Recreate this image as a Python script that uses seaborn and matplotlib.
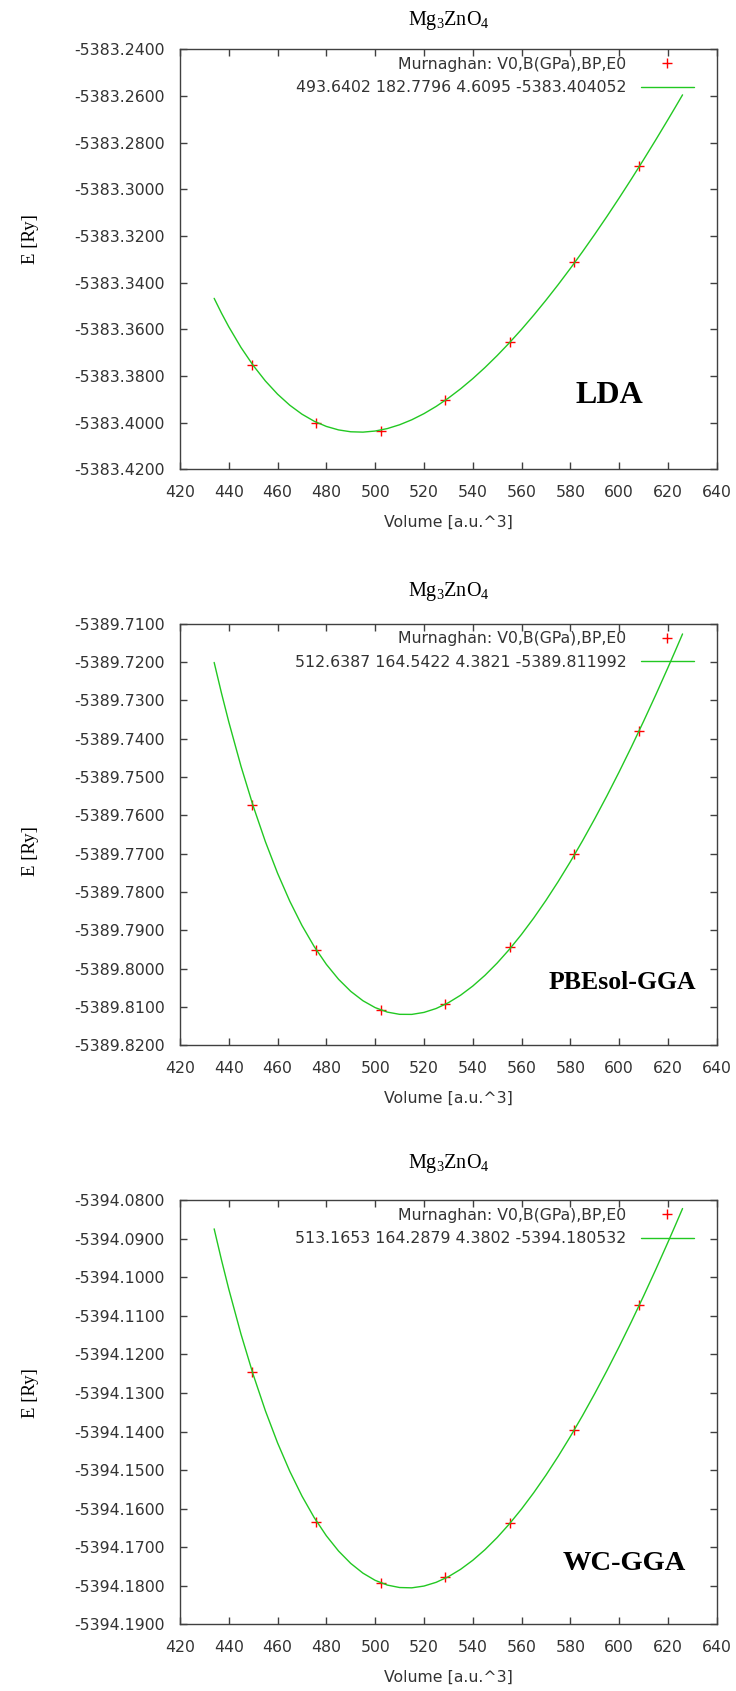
import numpy as np
import pandas as pd
import matplotlib
matplotlib.use("Agg")
import matplotlib.pyplot as plt
import seaborn as sns
from matplotlib.lines import Line2D
from matplotlib.ticker import FixedLocator, FormatStrFormatter

# ---------------- data ----------------
volume_points = [449.5, 475.9, 502.4, 528.8, 555.2, 581.7, 608.1]
energy_lda = [-5383.3752, -5383.4000, -5383.4035, -5383.3903, -5383.3656, -5383.3311, -5383.2899]
energy_pbesol = [-5389.7572, -5389.7952, -5389.8107, -5389.8092, -5389.7944, -5389.7701, -5389.7379]
energy_wc = [-5394.1245, -5394.1634, -5394.1792, -5394.1778, -5394.1637, -5394.1395, -5394.1073]

volume_fit = [434, 437, 440, 445, 450, 455, 460, 465, 470, 475, 480, 485, 490, 495,
              500, 505, 510, 515, 520, 525, 530, 535, 540, 545, 550, 555, 560, 565,
              570, 575, 580, 585, 590, 595, 600, 605, 610, 615, 620, 623, 626]
fit_lda = [-5383.34671, -5383.35304, -5383.35890, -5383.36775, -5383.37546, -5383.38211,
           -5383.38777, -5383.39250, -5383.39634, -5383.39936, -5383.40159, -5383.40308,
           -5383.40388, -5383.40403, -5383.40356, -5383.40250, -5383.40088, -5383.39874,
           -5383.39611, -5383.39301, -5383.38946, -5383.38549, -5383.38112, -5383.37636,
           -5383.37124, -5383.36578, -5383.36000, -5383.35391, -5383.34752, -5383.34085,
           -5383.33391, -5383.32672, -5383.31928, -5383.31162, -5383.30373, -5383.29563,
           -5383.28733, -5383.27884, -5383.27016, -5383.26487, -5383.25952]
fit_pbesol = [-5389.72011, -5389.72811, -5389.73563, -5389.74719, -5389.75758, -5389.76687,
              -5389.77512, -5389.78240, -5389.78875, -5389.79423, -5389.79889, -5389.80278,
              -5389.80593, -5389.80838, -5389.81017, -5389.81134, -5389.81192, -5389.81194,
              -5389.81142, -5389.81040, -5389.80889, -5389.80694, -5389.80455, -5389.80175,
              -5389.79855, -5389.79498, -5389.79105, -5389.78679, -5389.78220, -5389.77730,
              -5389.77211, -5389.76664, -5389.76090, -5389.75491, -5389.74867, -5389.74220,
              -5389.73550, -5389.72859, -5389.72147, -5389.71711, -5389.71267]
fit_wc = [-5394.08748, -5394.09553, -5394.10311, -5394.11476, -5394.12524, -5394.13462,
          -5394.14295, -5394.15030, -5394.15673, -5394.16229, -5394.16702, -5394.17097,
          -5394.17418, -5394.17670, -5394.17856, -5394.17979, -5394.18042, -5394.18050,
          -5394.18004, -5394.17907, -5394.17762, -5394.17571, -5394.17337, -5394.17062,
          -5394.16747, -5394.16395, -5394.16007, -5394.15585, -5394.15131, -5394.14645,
          -5394.14130, -5394.13587, -5394.13017, -5394.12422, -5394.11802, -5394.11158,
          -5394.10492, -5394.09804, -5394.09096, -5394.08662, -5394.08221]

fit_labels = ["493.6402 182.7796 4.6095 -5383.404052",
              "512.6387 164.5422 4.3821 -5389.811992",
              "513.1653 164.2879 4.3802 -5394.180532"]
points_label = "Murnaghan: V0,B(GPa),BP,E0"
method_labels = ["LDA", "PBEsol-GGA", "WC-GGA"]
title_text = "Mg$_3$ZnO$_4$"
x_label = "Volume [a.u.^3]"
y_label = "E [Ry]"

x_ticks = [420, 440, 460, 480, 500, 520, 540, 560, 580, 600, 620, 640]
y_ticks_lda = [-5383.42, -5383.40, -5383.38, -5383.36, -5383.34, -5383.32,
               -5383.30, -5383.28, -5383.26, -5383.24]
y_ticks_pbesol = [-5389.82, -5389.81, -5389.80, -5389.79, -5389.78, -5389.77,
                  -5389.76, -5389.75, -5389.74, -5389.73, -5389.72, -5389.71]
y_ticks_wc = [-5394.19, -5394.18, -5394.17, -5394.16, -5394.15, -5394.14,
              -5394.13, -5394.12, -5394.11, -5394.10, -5394.09, -5394.08]

# ---------------- style ----------------
sns.set_theme(style="ticks")
plt.rcParams["font.family"] = ["DejaVu Sans"]
plt.rcParams["axes.unicode_minus"] = False
plt.rcParams["mathtext.fontset"] = "custom"
plt.rcParams["mathtext.rm"] = "Liberation Serif"
plt.rcParams["mathtext.it"] = "Liberation Serif:italic"
plt.rcParams["mathtext.bf"] = "Liberation Serif:bold"
plt.rcParams["mathtext.default"] = "rm"

GREEN = "#22c822"
RED = "#ff0000"
AXCOL = "#404040"
TXTCOL = "#333333"
TICKFS = 11.3

fig = plt.figure(figsize=(7.36, 16.91), dpi=100)

panels = [
    dict(rect=[0.24457, 0.72241, 0.72921, 0.24844], pts=energy_lda, fit=fit_lda,
         yt=y_ticks_lda, lab=fit_labels[0], meth=method_labels[0],
         mpos=(0.80, 0.176), mfs=23, title_y=0.98817, ylab_y=0.548),
    dict(rect=[0.24457, 0.38185, 0.72921, 0.24931], pts=energy_pbesol, fit=fit_pbesol,
         yt=y_ticks_pbesol, lab=fit_labels[1], meth=method_labels[1],
         mpos=(0.825, 0.148), mfs=18.5, title_y=0.65009, ylab_y=0.46),
    dict(rect=[0.24457, 0.03933, 0.72921, 0.25103], pts=energy_wc, fit=fit_wc,
         yt=y_ticks_wc, lab=fit_labels[2], meth=method_labels[2],
         mpos=(0.827, 0.144), mfs=20.5, title_y=0.31224, ylab_y=0.545),
]

for p in panels:
    ax = fig.add_axes(p["rect"])
    df_pts = pd.DataFrame({"V": volume_points, "E": p["pts"]})
    df_fit = pd.DataFrame({"V": volume_fit, "E": p["fit"]})
    sns.scatterplot(data=df_pts, x="V", y="E", ax=ax, marker="+", color=RED,
                    s=60, linewidth=1.0, legend=False, zorder=2)
    sns.lineplot(data=df_fit, x="V", y="E", ax=ax, color=GREEN, linewidth=1.0,
                 sort=False, estimator=None, legend=False, zorder=3)

    ax.set_xlim(x_ticks[0], x_ticks[-1])
    ax.set_ylim(p["yt"][0], p["yt"][-1])
    ax.xaxis.set_major_locator(FixedLocator(x_ticks))
    ax.yaxis.set_major_locator(FixedLocator(p["yt"]))
    ax.yaxis.set_major_formatter(FormatStrFormatter("%.4f"))
    ax.tick_params(axis="both", direction="in", length=5, width=1.0, color=AXCOL,
                   labelcolor=TXTCOL, labelsize=TICKFS, top=True, right=True)
    ax.tick_params(axis="y", pad=11)
    ax.tick_params(axis="x", pad=11)
    for sp in ax.spines.values():
        sp.set_visible(True)
        sp.set_color(AXCOL)
        sp.set_linewidth(1.0)
    ax.grid(False)
    ax.set_facecolor("white")

    ax.set_xlabel(x_label, fontsize=TICKFS, color=TXTCOL, labelpad=11)
    ax.set_ylabel(y_label, fontsize=13.5, family="Liberation Serif", color="black")
    ax.yaxis.set_label_coords(-0.262, p["ylab_y"])

    h1 = Line2D([], [], marker="+", color=RED, linestyle="none", markersize=7.5,
                markeredgewidth=1.0)
    h2 = Line2D([], [], color=GREEN, linewidth=1.0)
    ax.legend([h1, h2], [points_label, p["lab"]], loc="upper right",
              bbox_to_anchor=(0.9577, 0.982), frameon=False, markerfirst=False,
              handlelength=3.4, handletextpad=0.9, labelspacing=0.55,
              fontsize=TICKFS, labelcolor=TXTCOL, borderaxespad=0, borderpad=0)

    ax.text(p["mpos"][0], p["mpos"][1], p["meth"], transform=ax.transAxes,
            ha="center", va="center", family="Liberation Serif",
            fontweight="bold", fontsize=p["mfs"], color="black")

    cx = p["rect"][0] + p["rect"][2] / 2
    fig.text(cx, p["title_y"], title_text, ha="center", va="center",
             family="Liberation Serif", fontsize=14.5, color="black")

fig.savefig("out.png", dpi=100, facecolor="white")
